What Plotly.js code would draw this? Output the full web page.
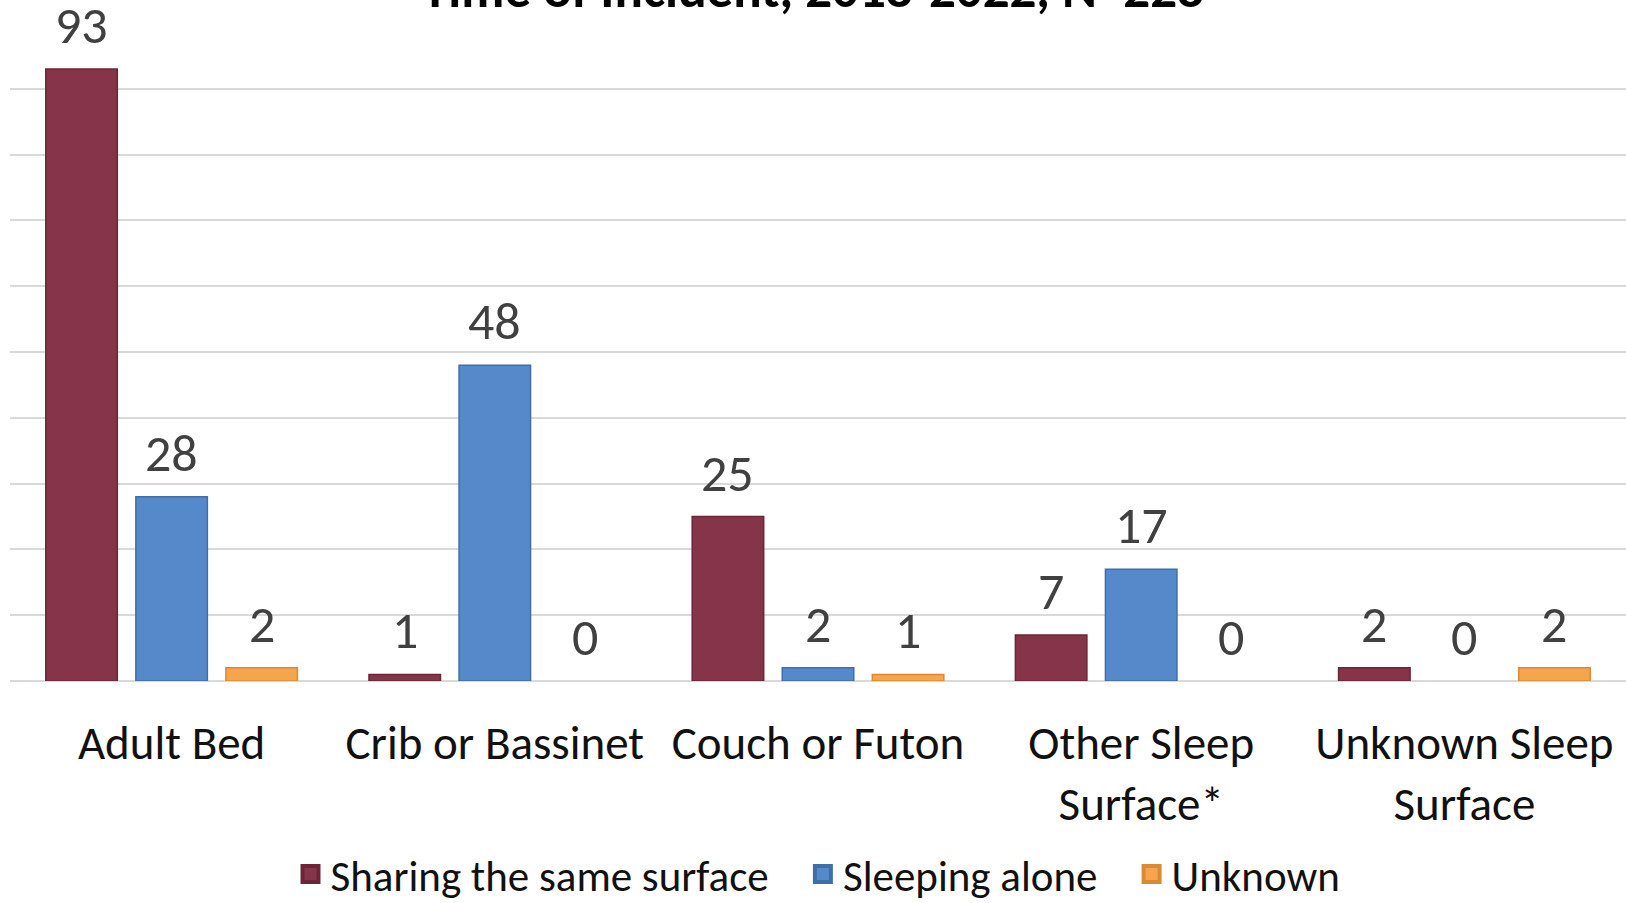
<!DOCTYPE html>
<html>
<head>
<meta charset="utf-8">
<script src="https://cdn.plot.ly/plotly-3.0.1.min.js"></script>
<style>html,body{margin:0;padding:0;background:#fff;}#chart{width:1626px;height:903px;}</style>
</head>
<body>
<div id="chart"></div>
<script>
const titleText = "Time of Incident, 2018-2022, N=228";
const categories = ["Adult Bed", "Crib or Bassinet", "Couch or Futon", "Other Sleep<br>Surface*", "Unknown Sleep<br>Surface"];
const seriesNames = ["Sharing the same surface", "Sleeping alone", "Unknown"];
const sharing = [93, 1, 25, 7, 2];
const alone = [28, 48, 2, 17, 0];
const unknown = [2, 0, 1, 0, 2];
const colors = ["#86344A", "#5589CA", "#F5A54C"];
const lineColors = ["#6A2638", "#3F6FA8", "#D98A35"];

const values = [sharing, alone, unknown];
const bargap = 0.164;
const fontFam = "Carlito, Calibri, Lato, sans-serif";

const traces = values.map((v, j) => ({
  type: "bar",
  name: seriesNames[j],
  x: categories.map((c, i) => i),
  y: v,
  showlegend: false,
  marker: {color: colors[j], line: {color: lineColors[j], width: v.map(val => val === 0 ? 0 : 1.5)}},
  hoverinfo: "skip"
}));

// legend entries (larger square swatches)
values.forEach((v, j) => {
  traces.push({
    type: "scatter", mode: "markers", name: seriesNames[j] + (j < 2 ? "\u00a0\u00a0\u00a0" : ""),
    x: [null], y: [null], showlegend: true, hoverinfo: "skip",
    marker: {symbol: "square", size: 16, color: colors[j], line: {color: lineColors[j], width: 4}}
  });
});

const slot = (1 - bargap) / 3;
const annotations = [];
values.forEach((v, j) => {
  v.forEach((val, i) => {
    annotations.push({
      x: i + (j - 1) * slot, y: val, xref: "x", yref: "y",
      text: String(val), showarrow: false,
      yanchor: "bottom", yshift: 10,
      font: {family: fontFam, size: 52, color: "#404040"}
    });
  });
});

const layout = {
  width: 1626, height: 903,
  margin: {l: 10, r: 0, t: 23, b: 222},
  paper_bgcolor: "#ffffff", plot_bgcolor: "#ffffff",
  title: {text: "<b>" + titleText + "</b>", x: 0.5, xanchor: "center", y: 0.992, yanchor: "bottom", yref: "container",
          font: {family: fontFam, size: 53, color: "#000000"}},
  barmode: "group", bargap: bargap, bargroupgap: 0.206,
  xaxis: {tickmode: "array", tickvals: categories.map((c, i) => i), ticktext: categories,
          range: [-0.5, 4.5], showgrid: false, zeroline: false, showline: false, ticks: "",
          ticklabelstandoff: 30,
          tickfont: {family: fontFam, size: 47, color: "#111111"}},
  yaxis: {range: [0, 100], dtick: 10, showticklabels: false, showgrid: true, gridcolor: "#D9D9D9", gridwidth: 2,
          zeroline: true, zerolinecolor: "#D9D9D9", zerolinewidth: 2, showline: false, ticks: ""},
  showlegend: true,
  legend: {orientation: "h", x: 0.5, xanchor: "center", y: 0.032, yanchor: "middle", yref: "container",
           font: {family: fontFam, size: 43, color: "#111111"}, traceorder: "normal", itemwidth: 30},
  annotations: annotations
};

Plotly.newPlot("chart", traces, layout, {displayModeBar: false, staticPlot: true});
</script>
</body>
</html>
